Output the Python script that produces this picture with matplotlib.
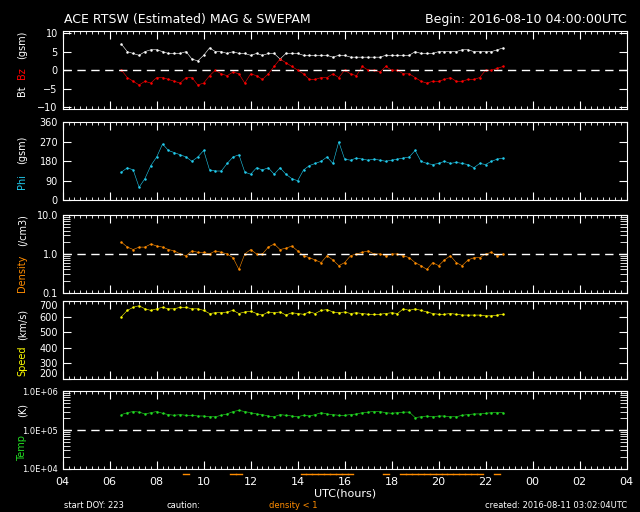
import matplotlib
matplotlib.use('Agg')
import matplotlib.pyplot as plt
from matplotlib.ticker import MultipleLocator, FixedLocator, NullFormatter
import numpy as np

hours = [6.5, 6.75, 7, 7.25, 7.5, 7.75, 8, 8.25, 8.5, 8.75, 9, 9.25, 9.5, 9.75,
         10, 10.25, 10.5, 10.75, 11, 11.25, 11.5, 11.75, 12, 12.25, 12.5, 12.75,
         13, 13.25, 13.5, 13.75, 14, 14.25, 14.5, 14.75, 15, 15.25, 15.5, 15.75,
         16, 16.25, 16.5, 16.75, 17, 17.25, 17.5, 17.75, 18, 18.25, 18.5, 18.75,
         19, 19.25, 19.5, 19.75, 20, 20.25, 20.5, 20.75, 21, 21.25, 21.5, 21.75,
         22, 22.25, 22.5, 22.75]

bt = [7, 5, 4.5, 4, 5, 5.5, 5.5, 5, 4.5, 4.5, 4.5, 5, 3, 2.5, 4, 6, 5, 5, 4.5, 5,
      4.5, 4.5, 4, 4.5, 4, 4.5, 4.5, 3, 4.5, 4.5, 4.5, 4, 4, 4, 4, 4, 3.5, 4,
      4, 3.5, 3.5, 3.5, 3.5, 3.5, 3.5, 4, 4, 4, 4, 4, 5, 4.5, 4.5, 4.5, 5, 5,
      5, 5, 5.5, 5.5, 5, 5, 5, 5, 5.5, 6]
bz = [0, -2, -3, -4, -3, -3.5, -2, -2, -2.5, -3, -3.5, -2, -2, -4, -3.5, -1.5,
      0, -1, -1.5, -0.5, -1, -3.5, -1, -1.5, -2.5, -1, 1, 3, 2, 1, 0, -1, -2.5,
      -2.5, -2, -2, -1, -2, 0, -1, -1.5, 1, 0, 0, -0.5, 1, 0, 0, -1, -1, -2, -3,
      -3.5, -3, -3, -2.5, -2, -3, -3, -2.5, -2.5, -2, 0, 0, 0.5, 1]
phi = [130, 150, 140, 60, 100, 160, 200, 260, 230, 220, 210, 200, 180, 200, 230,
       140, 135, 135, 170, 200, 210, 130, 120, 150, 140, 150, 120, 150, 120, 100,
       90, 140, 160, 170, 180, 200, 170, 270, 190, 185, 195, 190, 185, 190, 185,
       180, 185, 190, 195, 200, 230, 180, 170, 165, 170, 180, 170, 175, 170, 165,
       150, 170, 165, 180, 190, 195]
density = [2, 1.5, 1.3, 1.5, 1.5, 1.8, 1.6, 1.5, 1.3, 1.2, 1.0, 0.9, 1.2, 1.1,
           1.1, 1.0, 1.2, 1.1, 1.0, 0.8, 0.4, 1.0, 1.3, 1.0, 1.0, 1.5, 1.8, 1.3,
           1.4, 1.6, 1.2, 0.9, 0.8, 0.7, 0.6, 0.9, 0.7, 0.5, 0.6, 0.9, 1.0, 1.1,
           1.2, 1.0, 1.0, 0.9, 1.0, 1.0, 0.9, 0.8, 0.6, 0.5, 0.4, 0.6, 0.5, 0.7,
           0.9, 0.6, 0.5, 0.7, 0.8, 0.8, 1.0, 1.1, 0.9, 1.0]
speed = [600, 640, 660, 670, 650, 640, 650, 660, 650, 650, 660, 660, 650, 650,
         640, 620, 625, 625, 630, 640, 620, 630, 635, 620, 610, 630, 625, 630,
         610, 625, 620, 615, 630, 620, 640, 645, 630, 625, 630, 620, 625, 620,
         615, 615, 615, 620, 625, 620, 650, 640, 650, 640, 630, 620, 615, 615,
         620, 615, 610, 610, 610, 610, 605, 605, 610, 615]
temp = [2.5, 2.8, 3.0, 2.9, 2.6, 2.8, 3.0, 2.7, 2.5, 2.4, 2.5, 2.4, 2.4, 2.3,
        2.3, 2.2, 2.2, 2.4, 2.6, 3.0, 3.2, 3.0, 2.8, 2.6, 2.5, 2.3, 2.2, 2.5,
        2.4, 2.3, 2.2, 2.4, 2.3, 2.5, 2.8, 2.6, 2.5, 2.4, 2.4, 2.5, 2.6, 2.8,
        2.9, 3.0, 3.0, 2.8, 2.7, 2.8, 2.9, 2.9, 2.1, 2.2, 2.3, 2.2, 2.3, 2.3,
        2.2, 2.2, 2.4, 2.5, 2.6, 2.6, 2.7, 2.8, 2.8, 2.8]
temp = [v * 1e5 for v in temp]

x_ticks = [4, 6, 8, 10, 12, 14, 16, 18, 20, 22, 24, 26, 28]
x_labels = ['04', '06', '08', '10', '12', '14', '16', '18', '20', '22', '00', '02', '04']

plt.rcParams['font.family'] = 'DejaVu Sans'
fig = plt.figure(figsize=(6.4, 5.12), dpi=100, facecolor='black')

bottoms = [0.787, 0.609, 0.428, 0.260, 0.084]
axes = []
for b in bottoms:
    ax = fig.add_axes([0.098, b, 0.881, 0.152], facecolor='black')
    ax.set_xlim(4, 28)
    ax.xaxis.set_major_locator(FixedLocator(x_ticks))
    ax.xaxis.set_minor_locator(MultipleLocator(0.25))
    ax.xaxis.set_major_formatter(NullFormatter())
    for s in ax.spines.values():
        s.set_color('white')
    ax.tick_params(which='both', colors='white', direction='in', top=True, right=True,
                   labelsize=7, length=6)
    ax.tick_params(which='minor', length=2)
    axes.append(ax)

ms = 1.6
lw = 0.4
ax = axes[0]
ax.plot(hours, bt, color='white', lw=lw, marker='.', ms=ms)
ax.plot(hours, bz, color='red', lw=lw, marker='.', ms=ms)
ax.axhline(0, color='white', ls=(0, (6, 4)), lw=1)
ax.set_ylim(-10.5, 10.5)
ax.set_yticks([-10, -5, 0, 5, 10])

ax = axes[1]
ax.plot(hours, phi, color='#22ccee', lw=lw, marker='.', ms=ms)
ax.set_ylim(0, 360)
ax.set_yticks([0, 90, 180, 270, 360])

ax = axes[2]
ax.plot(hours, density, color='#ff8c00', lw=lw, marker='.', ms=ms)
ax.set_yscale('log')
ax.set_ylim(0.1, 10)
ax.set_yticks([0.1, 1, 10])
ax.set_yticklabels(['0.1', '1.0', '10.0'])
ax.yaxis.set_minor_formatter(NullFormatter())
ax.tick_params(axis='y', which='minor', length=5)
ax.axhline(1, color='white', ls=(0, (6, 4)), lw=1)

ax = axes[3]
ax.plot(hours, speed, color='yellow', lw=lw, marker='.', ms=ms)
ax.set_ylim(200, 700)
ax.set_yticks([200, 300, 400, 500, 600, 700])
ax.get_yticklabels()[-1].set_va('top')
ax.get_yticklabels()[0].set_va('bottom')

ax = axes[4]
ax.plot(hours, temp, color='#22dd22', lw=lw, marker='.', ms=ms)
ax.set_yscale('log')
ax.set_ylim(1e4, 1e6)
ax.set_yticks([1e4, 1e5, 1e6])
ax.set_yticklabels(['1.0E+04', '1.0E+05', '1.0E+06'], fontsize=6)
ax.yaxis.set_minor_formatter(NullFormatter())
ax.tick_params(axis='y', which='minor', length=5)
ax.axhline(1e5, color='white', ls=(0, (6, 4)), lw=1)
ax.set_xticklabels(x_labels)
ax.tick_params(axis='x', labelbottom=True, labelsize=8, pad=6)
ax.set_xlabel('UTC(hours)', color='white', fontsize=8, labelpad=1)
# density < 1 caution marks below the bottom panel
for h, d in zip(hours, density):
    if d < 1:
        ax.plot([h - 0.125, h + 0.125], [7.5e3, 7.5e3], color='#ff8c00', lw=1,
                clip_on=False)

fig.text(0.10, 0.955, 'ACE RTSW (Estimated) MAG & SWEPAM', color='white', fontsize=9)
fig.text(0.98, 0.955, 'Begin: 2016-08-10 04:00:00UTC', color='white', fontsize=9, ha='right')

lx = 0.035
fs = 7
def ylab(y, s, c):
    fig.text(lx, y, s, color=c, fontsize=fs, rotation=90, va='bottom', ha='center')

ylab(0.812, 'Bt', 'white')
ylab(0.845, 'Bz', 'red')
ylab(0.885, '(gsm)', 'white')
ylab(0.63, 'Phi', '#22ccee')
ylab(0.68, '(gsm)', 'white')
ylab(0.43, 'Density', '#ff8c00')
ylab(0.52, '(/cm3)', 'white')
ylab(0.265, 'Speed', 'yellow')
ylab(0.335, '(km/s)', 'white')
ylab(0.10, 'Temp', '#22dd22')
ylab(0.185, '(K)', 'white')

fig.text(0.10, 0.008, 'start DOY: 223', color='white', fontsize=6)
fig.text(0.26, 0.008, 'caution:', color='white', fontsize=6)
fig.text(0.42, 0.008, 'density < 1', color='#ff8c00', fontsize=6)
fig.text(0.98, 0.008, 'created: 2016-08-11 03:02:04UTC', color='white', fontsize=6, ha='right')

fig.savefig('out.png', dpi=100, facecolor='black')
